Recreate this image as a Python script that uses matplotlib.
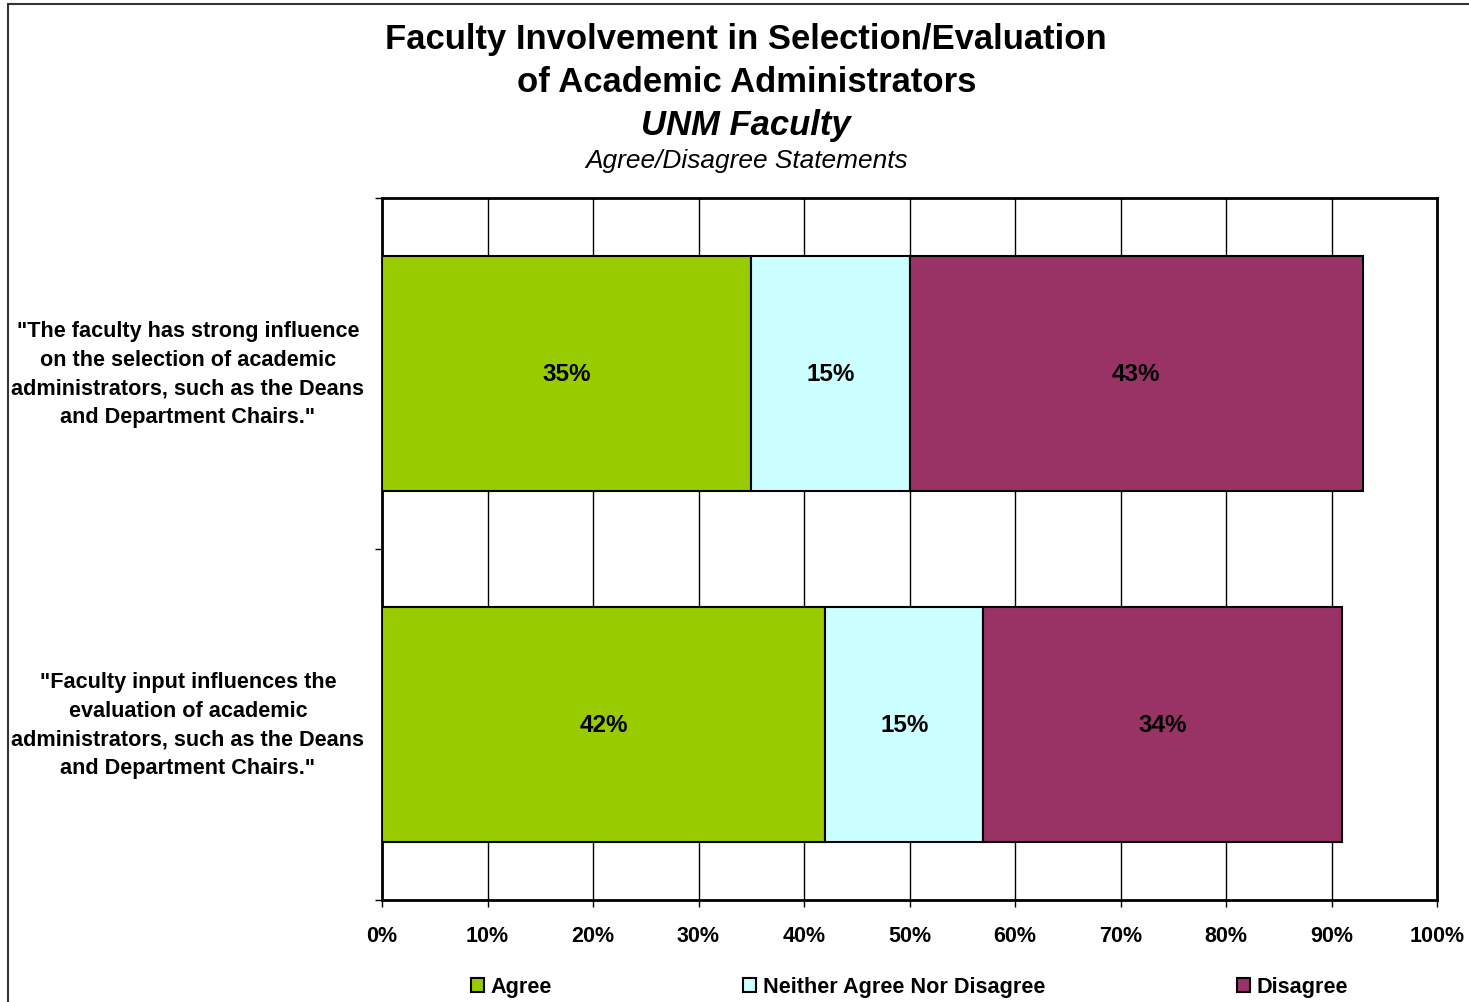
import matplotlib.pyplot as plt
import matplotlib.patches as mpatches
import numpy as np

plt.rcParams['font.family'] = ['Liberation Sans', 'DejaVu Sans']

# data
statements = [
    '"Faculty input influences the\nevaluation of academic\nadministrators, such as the Deans\nand Department Chairs."',
    '"The faculty has strong influence\non the selection of academic\nadministrators, such as the Deans\nand Department Chairs."',
]
series_names = ['Agree', 'Neither Agree Nor Disagree', 'Disagree']
agree = [42, 35]
neither = [15, 15]
disagree = [34, 43]
colors = ['#99CC00', '#CCFFFF', '#993366']

fig = plt.figure(figsize=(14.69, 10.03), dpi=100)
ax = fig.add_axes([382 / 1469, 1 - 901 / 1003, 1055 / 1469, 702 / 1003])

# frame around the chart area (left and top visible)
fig.patches.append(mpatches.Rectangle((8 / 1469, -0.05), 1.2, 1.05 - 4.5 / 1003,
                                      transform=fig.transFigure, fill=False,
                                      edgecolor='#333333', linewidth=1.5))

y = np.arange(len(statements))
left = np.zeros(len(statements))
for vals, name, col in zip([agree, neither, disagree], series_names, colors):
    vals = np.array(vals, dtype=float)
    ax.barh(y, vals, left=left, height=0.667, color=col, edgecolor='black',
            linewidth=1.5, label=name, zorder=3)
    for yi, l, v in zip(y, left, vals):
        ax.text(l + v / 2, yi, f'{int(v)}%', ha='center', va='center',
                fontsize=17.5, fontweight='bold', zorder=4)
    left += vals

ax.set_xlim(0, 100)
ax.set_ylim(-0.5, 1.5)
ax.set_xticks(np.arange(0, 101, 10))
ax.set_xticklabels([f'{t}%' for t in range(0, 101, 10)], fontsize=15.5, fontweight='bold')
ax.set_yticks([-0.5, 0.5, 1.5])
ax.set_yticklabels([])
ax.tick_params(axis='x', length=5, width=1, pad=13)
ax.tick_params(axis='y', length=5, width=1)
ax.grid(axis='x', color='black', linewidth=1, zorder=0)
for s in ax.spines.values():
    s.set_linewidth(2)

for yi, txt in zip(y, statements):
    ax.text(-0.184, yi, txt, transform=ax.get_yaxis_transform(), ha='center',
            va='center', fontsize=15.6, fontweight='bold', linespacing=1.46)

fig.text(0.508, 1 - 39 / 1003, 'Faculty Involvement in Selection/Evaluation',
         ha='center', va='center', fontsize=24.9, fontweight='bold')
fig.text(0.508, 1 - 82 / 1003, 'of Academic Administrators',
         ha='center', va='center', fontsize=24.9, fontweight='bold')
fig.text(0.508, 1 - 125 / 1003, 'UNM Faculty',
         ha='center', va='center', fontsize=24.9, fontweight='bold', style='italic')
fig.text(0.508, 1 - 161 / 1003, 'Agree/Disagree Statements',
         ha='center', va='center', fontsize=18.9, style='italic')

handles = [mpatches.Patch(facecolor=c, edgecolor='black', linewidth=1.5) for c in colors]
fig.legend(handles, series_names, loc='center', bbox_to_anchor=(0.619, 1 - 988 / 1003),
           ncol=3, frameon=False, prop={'weight': 'bold', 'size': 15.6},
           handlelength=0.6, handleheight=0.6, handletextpad=0.3, columnspacing=8.85)

fig.savefig('out.png', dpi=100)
